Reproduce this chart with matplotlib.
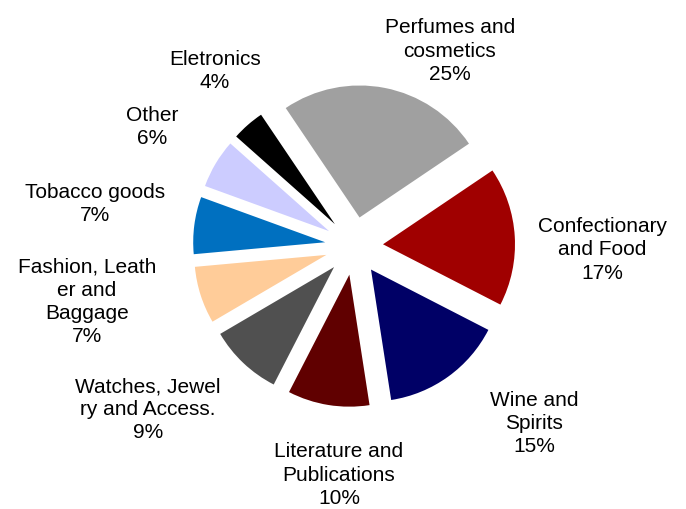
import matplotlib
matplotlib.use("Agg")
import matplotlib.pyplot as plt

plt.rcParams['font.family'] = ['Liberation Sans', 'DejaVu Sans']

categories = ["Perfumes and\ncosmetics", "Confectionary\nand Food", "Wine and\nSpirits",
              "Literature and\nPublications", "Watches, Jewel\nry and Access.",
              "Fashion, Leath\ner and\nBaggage", "Tobacco goods", "Other", "Eletronics"]
shares = [25, 17, 15, 10, 9, 7, 7, 6, 4]
colors = ["#A0A0A0", "#A00000", "#000066", "#600000", "#505050",
          "#FFCC99", "#0070C0", "#CCCCFF", "#000000"]

# layout: label anchor positions (in units of pie radius)
label_xy = [(0.727, 1.477), (1.879, -0.030), (1.364, -1.348), (-0.114, -1.735),
            (-1.561, -1.242), (-2.023, -0.424), (-1.962, 0.318), (-1.530, 0.902),
            (-1.053, 1.326)]

fig = plt.figure(figsize=(6.86, 5.09), dpi=100)
ax = fig.add_axes([0, 0, 1, 1])
ax.pie(shares, colors=colors, startangle=124, counterclock=False,
       explode=[0.22] * len(shares), radius=1.0,
       wedgeprops=dict(linewidth=0))
ax.set_xlim(-354 / 132, (686 - 354) / 132)
ax.set_ylim(-(509 - 246) / 132, 246 / 132)
ax.set_aspect('auto')
ax.axis('off')

for name, val, (x, y) in zip(categories, shares, label_xy):
    ax.text(x, y, f"{name}\n{val}%", ha='center', va='center', fontsize=15,
            linespacing=1.27, color='black')

fig.savefig("out.png", dpi=100)
